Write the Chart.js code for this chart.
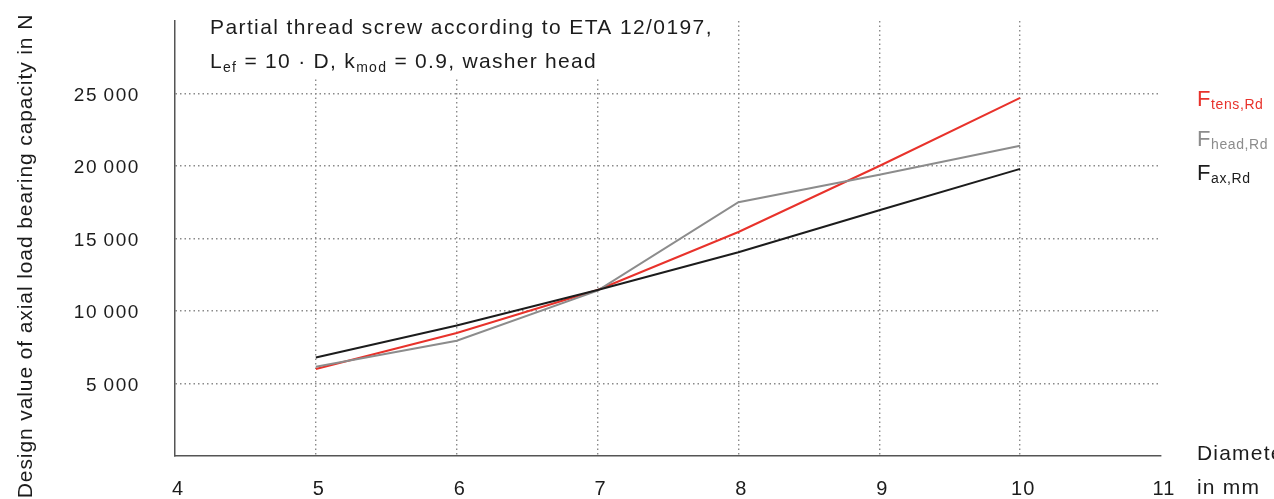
<!DOCTYPE html>
<html>
<head>
<meta charset="utf-8">
<script src="https://cdn.jsdelivr.net/npm/chart.js@4.4.0/dist/chart.umd.min.js"></script>
<style>
    html, body { margin: 0; padding: 0; background: #fff; }
    #wrap { width: 1274px; height: 499px; position: relative; }
</style>
</head>
<body>
<div id="wrap"><canvas id="chart"></canvas></div>
<script>
    // diameters in mm
    var diameters = [5, 6, 7, 8, 9, 10];
    // design values in N
    var fTens = [6000, 8480, 11450, 15450, 20000, 24700];
    var fHead = [6150, 7950, 11400, 17500, 19400, 21400];
    var fAx   = [6800, 9000, 11450, 14050, 16950, 19800];
    var xTicks = [4, 5, 6, 7, 8, 9, 10, 11];
    var yTicks = [5000, 10000, 15000, 20000, 25000];
    var yTickLabels = ['5\u2009000', '10\u2009000', '15\u2009000', '20\u2009000', '25\u2009000'];

    var FONT = '"Liberation Sans", Arial, sans-serif';
    var RED = '#e8322b', GREY = '#8c8c8c', BLACK = '#1c1c1c';

    function pts(vals) {
        return diameters.map(function(d, i) { return {x: d, y: vals[i]}; });
    }

    // draw "F" + subscript style text pieces
    function drawParts(ctx, x, y, parts, color, sp) {
        ctx.fillStyle = color;
        ctx.textBaseline = 'alphabetic';
        ctx.textAlign = 'left';
        ctx.letterSpacing = (sp || 0) + 'px';
        parts.forEach(function(p) {
            ctx.font = p.size + 'px ' + FONT;
            ctx.fillText(p.t, x, y + (p.dy || 0));
            x += ctx.measureText(p.t).width;
        });
        ctx.letterSpacing = '0px';
    }

    var textPlugin = {
        id: 'texts',
        afterDraw: function(chart) {
            var ctx = chart.ctx;
            var xs = chart.scales.x, ys = chart.scales.y;
            ctx.save();
            // blank out grid behind the title block
            ctx.fillStyle = '#fff';
            ctx.fillRect(180, 0, 545, 79);
            drawParts(ctx, 210, 34, [{t: 'Partial thread screw according to ETA 12/0197,', size: 21}], '#1c1c1c', 1.4);
            drawParts(ctx, 210, 68, [
                {t: 'L', size: 21}, {t: 'ef', size: 14, dy: 4},
                {t: ' = 10 \u00b7 D, k', size: 21}, {t: 'mod', size: 14, dy: 4},
                {t: ' = 0.9, washer head', size: 21}
            ], '#1c1c1c', 1.3);

            // tick labels
            ctx.fillStyle = '#1c1c1c';
            ctx.font = '19px ' + FONT;
            ctx.letterSpacing = '1.6px';
            ctx.textAlign = 'right';
            ctx.textBaseline = 'middle';
            yTicks.forEach(function(v, i) {
                ctx.fillText(yTickLabels[i], 140, ys.getPixelForValue(v) + 2);
            });
            ctx.textAlign = 'center';
            ctx.font = '20px ' + FONT;
            ctx.letterSpacing = '1px';
            xTicks.forEach(function(v) {
                ctx.fillText(String(v), xs.getPixelForValue(v) + 3, 489);
            });
            ctx.letterSpacing = '0px';

            // legend
            drawParts(ctx, 1197, 106, [{t: 'F', size: 22}, {t: 'tens,Rd', size: 14, dy: 3}], RED, 0.6);
            drawParts(ctx, 1197, 146, [{t: 'F', size: 22}, {t: 'head,Rd', size: 14, dy: 3}], GREY, 0.6);
            drawParts(ctx, 1197, 180, [{t: 'F', size: 22}, {t: 'ax,Rd', size: 14, dy: 3}], BLACK, 0.6);

            // x axis title
            drawParts(ctx, 1197, 460, [{t: 'Diameter', size: 21}], '#1c1c1c', 1.2);
            drawParts(ctx, 1197, 494, [{t: 'in mm', size: 21}], '#1c1c1c', 1.2);

            // y axis title
            ctx.translate(26, 256);
            ctx.rotate(-Math.PI / 2);
            ctx.font = '21px ' + FONT;
            ctx.letterSpacing = '0.9px';
            ctx.fillStyle = '#1c1c1c';
            ctx.textAlign = 'center';
            ctx.textBaseline = 'middle';
            ctx.fillText('Design value of axial load bearing capacity in N', 0, 0);
            ctx.restore();
        }
    };

    new Chart(document.getElementById('chart'), {
        type: 'line',
        data: {
            datasets: [
                {label: 'F_ax,Rd', data: pts(fAx), borderColor: BLACK, borderWidth: 2},
                {label: 'F_head,Rd', data: pts(fHead), borderColor: GREY, borderWidth: 2},
                {label: 'F_tens,Rd', data: pts(fTens), borderColor: RED, borderWidth: 2}
            ]
        },
        options: {
            responsive: true,
            maintainAspectRatio: false,
            animation: false,
            elements: {point: {radius: 0}, line: {tension: 0}},
            layout: {padding: {left: 0, right: 113, top: 21, bottom: 0}},
            plugins: {legend: {display: false}, tooltip: {enabled: false}},
            scales: {
                x: {
                    type: 'linear', min: 4, max: 11,
                    afterFit: function(s) { s.height = 43; },
                    border: {display: true, color: '#555', width: 1.5, dash: [1.5, 3]},
                    grid: {
                        drawTicks: false, lineWidth: 1.4,
                        color: function(c) { return (c.tick && (c.tick.value === 4 || c.tick.value === 11)) ? 'rgba(0,0,0,0)' : '#8a8a8a'; }
                    },
                    ticks: {stepSize: 1, display: false}
                },
                y: {
                    min: 0, max: 30000,
                    afterFit: function(s) { s.width = 175; },
                    border: {display: true, color: '#555', width: 1.5, dash: [1.5, 3]},
                    grid: {
                        drawTicks: false, lineWidth: 1.4,
                        color: function(c) { return (c.tick && (c.tick.value === 0 || c.tick.value === 30000)) ? 'rgba(0,0,0,0)' : '#8a8a8a'; }
                    },
                    ticks: {stepSize: 5000, display: false}
                }
            }
        },
        plugins: [textPlugin]
    });
</script>
</body>
</html>
